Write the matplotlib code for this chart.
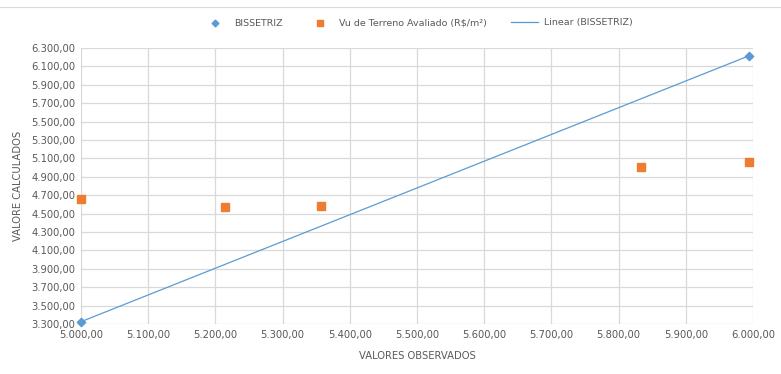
import matplotlib.pyplot as plt
import numpy as np
from matplotlib.ticker import FuncFormatter

# observed vs calculated values
bis_x = [5000.0, 5994.0]
bis_y = [3325.0, 6215.0]
aval_x = [5000.0, 5214.0, 5357.0, 5834.0, 5994.0]
aval_y = [4655.0, 4575.0, 4586.0, 5010.0, 5061.0]

plt.rcParams['font.family'] = ['Liberation Sans Narrow', 'DejaVu Sans']

def br(v, pos):
    s = '{:,.2f}'.format(v)
    return s.replace(',', '#').replace('.', ',').replace('#', '.')

fig = plt.figure(figsize=(7.81, 3.74), dpi=100)
ax = fig.add_axes([81 / 781, 1 - 324 / 374, 672 / 781, 276 / 374])

ax.scatter(bis_x, bis_y, marker='D', s=18, color='#5b9bd5', zorder=4,
           clip_on=False, label='BISSETRIZ')
ax.scatter(aval_x, aval_y, marker='s', s=26, color='#ed7d31', zorder=4,
           clip_on=False, label='Vu de Terreno Avaliado (R$/m²)')

# linear trendline of the bisector series
k, b = np.polyfit(bis_x, bis_y, 1)
tx = np.array([min(bis_x), max(bis_x)])
ax.plot(tx, k * tx + b, color='#5b9bd5', lw=0.9, zorder=3,
        label='Linear (BISSETRIZ)')

ax.set_xlim(5000, 6000)
ax.set_ylim(3300, 6300)
ax.set_xticks(np.arange(5000, 6001, 100))
ax.set_yticks(np.arange(3300, 6301, 200))
ax.xaxis.set_major_formatter(FuncFormatter(br))
ax.yaxis.set_major_formatter(FuncFormatter(br))
ax.grid(color='#d9d9d9', lw=0.9)
ax.set_axisbelow(True)
for s in ax.spines.values():
    s.set_visible(False)
ax.tick_params(length=0, labelsize=7.2, colors='#595959', pad=4)

ax.set_xlabel('VALORES OBSERVADOS', fontsize=7.2, color='#595959', labelpad=8)
ax.set_ylabel('VALORE CALCULADOS', fontsize=7.2, color='#595959', labelpad=6)

ax.legend(loc='center', bbox_to_anchor=(0.5, 1 + 25 / 276), ncol=3, frameon=False,
          fontsize=6.8, labelcolor='#595959', columnspacing=2.6, handlelength=2.8,
          handletextpad=0.6, markerscale=0.8)

fig.add_artist(plt.Line2D([0, 1], [1 - 7 / 374, 1 - 7 / 374], color='#d9d9d9', lw=0.8))

fig.savefig('out.png', dpi=100)
